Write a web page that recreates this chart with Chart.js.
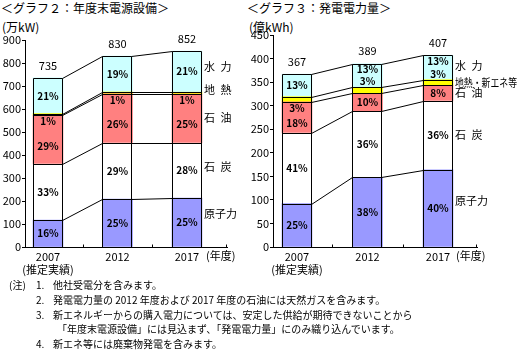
<!DOCTYPE html>
<html><head><meta charset="utf-8">
<script src="https://cdn.jsdelivr.net/npm/chart.js@4/dist/chart.umd.min.js"></script>
<style>
html,body{margin:0;padding:0;background:#fff;}
body{width:518px;height:350px;position:relative;overflow:hidden;font-family:'Noto Sans CJK JP',sans-serif;color:#000;}
.t{position:absolute;white-space:nowrap;line-height:1;}
.f{font-size:10px;}
canvas{position:absolute;top:0;}
</style></head><body>
<div class="t" style="left:1px;top:2px;font-size:12px;">＜グラフ２：年度末電源設備＞</div>
<div class="t" style="left:2px;top:21px;font-size:12px;">(万kW)</div>
<div class="t" style="left:247px;top:2px;font-size:12px;">＜グラフ３：発電電力量＞</div>
<div class="t" style="left:249px;top:21px;font-size:12px;">(億kWh)</div>
<canvas id="c1" width="259" height="280" style="left:0;width:259px;height:280px;"></canvas>
<canvas id="c2" width="270" height="280" style="left:248px;width:270px;height:280px;"></canvas>

<div class="t f" style="left:9px;top:280px;">(注)</div>
<div class="t f" style="left:36px;top:280px;">1.</div>
<div class="t f" style="left:53px;top:280px;">他社受電分を含みます。</div>
<div class="t f" style="left:36px;top:295px;">2.</div>
<div class="t f" style="left:53px;top:295px;">発電電力量の 2012 年度および 2017 年度の石油には天然ガスを含みます。</div>
<div class="t f" style="left:36px;top:310px;">3.</div>
<div class="t f" style="left:53px;top:310px;">新エネルギーからの購入電力については、安定した供給が期待できないことから</div>
<div class="t f" style="left:57px;top:324px;">「年度末電源設備」には見込まず、「発電電力量」にのみ織り込んでいます。</div>
<div class="t f" style="left:36px;top:339px;">4.</div>
<div class="t f" style="left:53px;top:339px;">新エネ等には廃棄物発電を含みます。</div>

<script>
// ---- data ----
const years = ['2007', '2012', '2017'];
const yearNote = '(推定実績)';
const unitYear = '(年度)';

// グラフ2: 年度末電源設備 (万kW)
const capNames   = ['原子力', '石炭', '石油', '地熱', '水力'];
const capNuclear = [117, 208, 213];
const capCoal    = [243, 244, 239];
const capOil     = [213, 214, 213];
const capGeo     = [7, 8, 8];
const capHydro   = [155, 156, 179];
const capYTicks  = [0, 100, 200, 300, 400, 500, 600, 700, 800, 900];

// グラフ3: 発電電力量 (億kWh)
const genNames   = ['原子力', '石炭', '石油', '地熱・新エネ等', '水力'];
const genNuclear = [92, 148, 164];
const genCoal    = [150, 140, 146];
const genOil     = [66, 38, 33];
const genGeoNew  = [11, 13, 12];
const genHydro   = [48, 50, 52];
const genYTicks  = [0, 50, 100, 150, 200, 250, 300, 350, 400, 450];

// ---- styles ----
const FONT = "'Noto Sans CJK JP', sans-serif";
const colors = ['#9999ff', '#ffffff', '#ff8080', '#ffff00', '#ccffff'];

function legendText(name) {
  return name.length === 2 ? name[0] + '\u2002' + name[1] : name;
}

function makeChart(canvasId, names, series, yTicks, opts) {
  const datasets = series.map((s, k) => ({
    label: names[k],
    data: s.map((v, i) => ({ x: i, y: v })),
    backgroundColor: colors[k],
    borderWidth: 0,
    barThickness: 30
  }));
  const plugin = {
    id: 'deco' + canvasId,
    afterDatasetsDraw(chart) {
      const ctx = chart.ctx;
      const ys = chart.scales.y;
      const S = series.length;
      const n = series[0].length;
      const py = v => ys.getPixelForValue(v);
      const rp = v => Math.round(v) + 0.5;
      const cum = [];
      for (let i = 0; i < n; i++) {
        const c = [0];
        for (let k = 0; k < S; k++) c.push(c[k] + series[k][i]);
        cum.push(c);
      }
      const bars = chart.getDatasetMeta(0).data;
      const edges = bars.map(b => ({ l: Math.round(b.x - b.width / 2) + 0.5, r: Math.round(b.x + b.width / 2) - 0.5, cx: b.x }));
      ctx.save();
      ctx.strokeStyle = '#000';
      ctx.lineWidth = 1;
      // series lines
      ctx.beginPath();
      for (let i = 0; i < n - 1; i++) {
        for (let k = 1; k <= S; k++) {
          ctx.moveTo(edges[i].r, rp(py(cum[i][k])));
          ctx.lineTo(edges[i + 1].l, rp(py(cum[i + 1][k])));
        }
      }
      ctx.stroke();
      // outlines
      ctx.beginPath();
      for (let i = 0; i < n; i++) {
        const yb = rp(py(0)), yt = rp(py(cum[i][S]));
        ctx.moveTo(edges[i].l, yb); ctx.lineTo(edges[i].l, yt);
        ctx.moveTo(edges[i].r, yb); ctx.lineTo(edges[i].r, yt);
        for (let k = 1; k <= S; k++) {
          const y = rp(py(cum[i][k]));
          ctx.moveTo(edges[i].l, y); ctx.lineTo(edges[i].r, y);
        }
      }
      ctx.stroke();
      // percent labels
      ctx.fillStyle = '#000';
      ctx.textAlign = 'center';
      ctx.textBaseline = 'middle';
      const sm = opts.smallIdx;
      for (let i = 0; i < n; i++) {
        const total = cum[i][S];
        const side = opts.smallSide[i];
        ctx.font = 'bold 10px ' + FONT;
        for (let k = 0; k < S; k++) {
          const yBot = py(cum[i][k]), yTop = py(cum[i][k + 1]);
          let y = (yBot + yTop) / 2;
          if (k === sm) y = side === 'below' ? yBot + 6 : yTop - 6;
          if (k === sm - 1 && side === 'below') y = (yBot + yTop + 12) / 2;
          if (k === sm + 1 && side === 'above') y = (yTop + yBot - 12) / 2;
          const pct = Math.round(series[k][i] / total * 100) + '%';
          ctx.fillText(pct, edges[i].cx, y);
        }
        // totals
        ctx.font = '11px ' + FONT;
        ctx.fillText(String(total), edges[i].cx, py(total) - 12.5);
      }
      // right-side legend labels
      ctx.font = '11px ' + FONT;
      ctx.textAlign = 'left';
      const last = n - 1;
      const lx = edges[last].r + 2.5;
      const maxW = chart.width - lx - 1;
      for (let k = 0; k < S; k++) {
        const yc = (py(cum[last][k]) + py(cum[last][k + 1])) / 2 + opts.legendShift[k];
        ctx.fillText(legendText(names[k]), lx, yc, maxW);
      }
      // (年度)
      ctx.fillText(unitYear, chart.chartArea.right - 21, chart.chartArea.bottom + 8.5);
      // x-axis tick marks between categories
      ctx.beginPath();
      const xs = chart.scales.x;
      const bot = rp(chart.chartArea.bottom);
      for (let i = 0; i < n - 1; i++) {
        const x = rp(xs.getPixelForValue(i + 0.5));
        ctx.moveTo(x, bot); ctx.lineTo(x, bot - 3);
      }
      const xe = Math.round(chart.chartArea.right) - 0.5;
      ctx.moveTo(xe, bot); ctx.lineTo(xe, bot - 3);
      ctx.stroke();
      ctx.restore();
    }
  };
  return new Chart(document.getElementById(canvasId), {
    type: 'bar',
    data: { datasets },
    options: {
      responsive: false,
      animation: false,
      events: [],
      devicePixelRatio: 1,
      layout: { padding: opts.padding },
      plugins: { legend: { display: false }, tooltip: { enabled: false } },
      scales: {
        x: {
          type: 'linear', min: opts.xMin, max: opts.xMax, stacked: true, offset: false,
          grid: { display: false, drawTicks: false },
          border: { display: true, color: '#000', width: 1 },
          afterBuildTicks: s => { s.ticks = years.map((_, i) => ({ value: i })); },
          ticks: {
            autoSkip: false, maxRotation: 0, padding: 3, color: '#000',
            font: { family: FONT, size: 11 },
            callback: (v, idx) => idx === 0 ? [years[0], yearNote] : years[idx]
          },
          afterFit: s => { s.height = 33; }
        },
        y: {
          stacked: true, min: yTicks[0], max: yTicks[yTicks.length - 1],
          afterBuildTicks: s => { s.ticks = yTicks.map(v => ({ value: v })); },
          grid: { display: true, drawOnChartArea: false, drawTicks: true, tickLength: 3, color: '#000' },
          border: { display: true, color: '#000', width: 1 },
          ticks: { padding: 1, color: '#000', font: { family: FONT, size: 11 } },
          afterFit: s => { s.width = 25; }
        }
      }
    },
    plugins: [plugin]
  });
}

makeChart('c1', capNames, [capNuclear, capCoal, capOil, capGeo, capHydro], capYTicks, {
  padding: { left: 0, top: 40, right: 32, bottom: 0 },
  xMin: -0.331, xMax: 2.576,
  smallIdx: 3, smallSide: ['below', 'below', 'below'],
  legendShift: [-9, -4, -1, -3, -5]
});
makeChart('c2', genNames, [genNuclear, genCoal, genOil, genGeoNew, genHydro], genYTicks, {
  padding: { left: 0, top: 35, right: 41, bottom: 0 },
  xMin: -0.34, xMax: 2.553,
  smallIdx: 3, smallSide: ['below', 'above', 'above'],
  legendShift: [-8, -1, 0, 0, -2]
});
</script>
</body></html>
